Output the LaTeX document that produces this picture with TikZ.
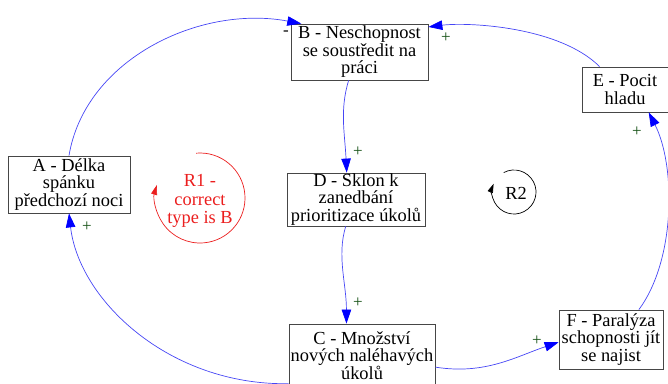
\documentclass[tikz,border=0pt]{standalone}
\usepackage{fontspec}
\setmainfont{Liberation Serif}
\usetikzlibrary{arrows.meta}
\definecolor{linkblue}{RGB}{70,70,245}
\definecolor{tipblue}{RGB}{0,0,255}
\definecolor{signgreen}{RGB}{20,80,20}
\definecolor{boxgray}{RGB}{70,70,70}
\definecolor{loopred}{RGB}{235,30,30}

\begin{document}
\begin{tikzpicture}[x=1pt,y=-1pt,
  var/.style={draw=boxgray, line width=0.8pt, fill=white, align=center,
    inner sep=0pt, font=\rmfamily\fontsize{18.4}{17.5}\selectfont},
  link/.style={draw=linkblue, line width=0.7pt,
    -{Triangle[length=14pt,width=9.5pt,color=tipblue]}},
  sign/.style={font=\rmfamily\fontsize{17}{17}\selectfont, text=signgreen, inner sep=0pt},
  looplabel/.style={align=center, inner sep=0pt, font=\rmfamily\fontsize{18.4}{18.5}\selectfont},
  loopline/.style={line width=0.7pt, -{Triangle[length=10pt,width=6pt]}}
]
\useasboundingbox (0,0) rectangle (668,383);

% variables
\node[var, minimum width=122pt, minimum height=57pt] (A) at (69,184.5) {A - Délka\\spánku\\předchozí noci};
\node[var, minimum width=137pt, minimum height=56pt] (B) at (359.5,52) {B - Neschopnost\\se soustředit na\\práci};
\node[var, minimum width=138pt, minimum height=53pt] (D) at (356,199.5) {D - Sklon k\\zanedbání\\prioritizace úkolů};
\node[var, minimum width=146pt, minimum height=63pt] (C) at (362,355.5) {C - Množství\\nových naléhavých\\úkolů};
\node[var, minimum width=104pt, minimum height=59pt] (F) at (611,339.5) {F - Paralýza\\schopnosti jít\\se najist};
\node[var, minimum width=86pt, minimum height=45pt] (E) at (625,89.5) {E - Pocit\\hladu};

% causal links
\draw[link] (A.north) .. controls +(16,-96) and +(-102,-19) .. (B.154);
\draw[link] (E.138) .. controls +(-40,-40) and +(40,-5) .. (B.20);
\draw[link] (B.-111) .. controls +(-9,30) and +(-2,-40) .. (D.109);
\draw[link] (D.-111) .. controls +(-9,30) and +(0,-40) .. (C.116);
\draw[link] (C.-9) .. controls +(50,8) and +(-42,14) .. (F.-177);
\draw[link] (F.47) .. controls +(37,-50) and +(27,53) .. (E.-44);
\draw[link] (C.-159) .. controls +(-119,2) and +(10,87) .. (A.south);

% link polarities
\node[sign, text=black] (sAB) at (286,33) {-};
\node[sign] (sEB) at (446,38) {+};
\node[sign] (sBD) at (358,152) {+};
\node[sign] (sDC) at (358,303) {+};
\node[sign] (sCF) at (537,341) {+};
\node[sign] (sFE) at (637,132) {+};
\node[sign] (sCA) at (87,227) {+};

% loop markers
\coordinate (L1) at (200,198);
\node[looplabel, text=loopred] (R1) at (200,201) {R1 -\\correct\\type is B};
\draw[loopline, draw=loopred] (L1) ++(-95:45) arc[start angle=-95, end angle=197, radius=45];

\coordinate (L2) at (514,192);
\node[looplabel] (R2) at (516,193) {R2};
\draw[loopline, -{Triangle[length=9pt,width=5.5pt]}] (L2) ++(-118:22) arc[start angle=-118, end angle=202, radius=22];
\end{tikzpicture}
\end{document}
